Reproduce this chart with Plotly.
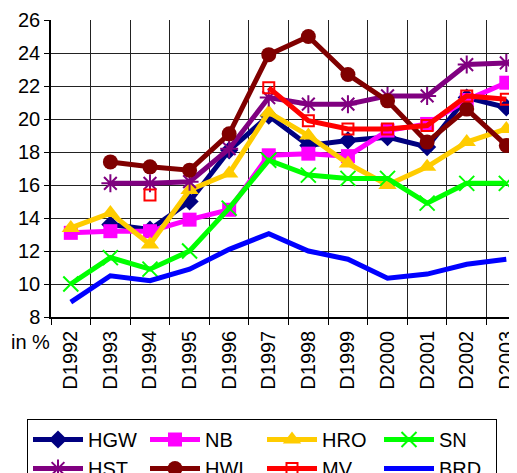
import plotly.graph_objects as go

categories = ["D1992", "D1993", "D1994", "D1995", "D1996", "D1997",
              "D1998", "D1999", "D2000", "D2001", "D2002", "D2003"]

HGW = [None, 13.6, 13.3, 15.0, 18.1, 20.2, 18.4, 18.7, 18.9, 18.3, 21.3, 20.7]
NB  = [13.1, 13.2, 13.2, 13.9, 14.5, 17.8, 17.9, 17.75, 19.3, 19.7, 21.15, 22.2]
HRO = [13.4, 14.3, 12.4, 15.7, 16.7, 20.4, 19.0, 17.3, 16.0, 17.1, 18.6, 19.4]
SN  = [10.0, 11.6, 10.9, 12.0, 14.6, 17.5, 16.6, 16.4, 16.4, 14.9, 16.1, 16.1]
HST = [None, 16.1, 16.1, 16.2, 18.2, 21.3, 20.9, 20.9, 21.4, 21.4, 23.3, 23.4]
HWI = [None, 17.4, 17.1, 16.9, 19.1, 23.9, 25.0, 22.7, 21.1, 18.6, 20.6, 18.4]
MV  = [None, None, 15.4, None, None, 21.9, 19.9, 19.4, 19.4, 19.6, 21.4, 21.2]
BRD = [8.9, 10.5, 10.2, 10.9, 12.1, 13.05, 12.0, 11.5, 10.35, 10.6, 11.2, 11.5]

y_ticks = [8, 10, 12, 14, 16, 18, 20, 22, 24, 26]

series = [
    ("HGW", HGW, "#000080", "diamond", 14, None),
    ("NB", NB, "#FF00FF", "square", 14, None),
    ("HRO", HRO, "#FFCC00", "triangle-up", 16, None),
    ("SN", SN, "#00FF00", "x-thin-open", 15, 2),
    ("HST", HST, "#800080", "asterisk-open", 15, 2),
    ("HWI", HWI, "#800000", "circle", 15, None),
    ("MV", MV, "#FF0000", "square-open", 11, 2),
    ("BRD", BRD, "#0000FF", None, 0, None),
]

fig = go.Figure()
for name, vals, color, sym, size, mlw in series:
    if sym is None:
        fig.add_trace(go.Scatter(x=categories, y=vals, name=name, mode="lines",
                                 line=dict(color=color, width=5)))
    else:
        marker = dict(symbol=sym, size=size, color=color)
        if mlw:
            marker["line"] = dict(color=color, width=mlw)
        fig.add_trace(go.Scatter(x=categories, y=vals, name=name, mode="lines+markers",
                                 line=dict(color=color, width=5), marker=marker))

font_family = "Liberation Sans, Arial, sans-serif"

# page body has an 8px default margin; figure sized to fill the visible window
W, H = 509, 465

fig.update_layout(
    width=W, height=H,
    margin=dict(l=43, r=0, t=12, b=156, autoexpand=False),
    paper_bgcolor="white", plot_bgcolor="white",
    font=dict(family=font_family, size=20, color="black"),
    showlegend=True,
    legend=dict(
        orientation="h",
        xref="container", yref="container",
        x=19 / W, y=1 - 411 / H,
        xanchor="left", yanchor="top",
        bordercolor="black", borderwidth=1, bgcolor="white",
        font=dict(family=font_family, size=20, color="black"),
        entrywidth=52, entrywidthmode="pixels",
        itemwidth=50, tracegroupgap=0,
    ),
    xaxis=dict(
        type="category", categoryorder="array", categoryarray=categories,
        range=[-0.5, 11.27],
        tickson="boundaries", ticks="outside", ticklen=6, tickcolor="black",
        showgrid=True, gridcolor="#222222", gridwidth=1,
        showline=True, linecolor="black", linewidth=1.5,
        tickangle=-90, tickfont=dict(size=20), ticklabelstandoff=4,
    ),
    yaxis=dict(
        range=[8, 26], tickvals=y_ticks, ticks="outside", ticklen=5, tickcolor="black",
        showgrid=True, gridcolor="#222222", gridwidth=1,
        showline=True, linecolor="black", linewidth=1.5,
        zeroline=False, tickfont=dict(size=20),
    ),
    annotations=[dict(text="in %", xref="paper", yref="paper", x=0, y=0,
                      xanchor="right", yanchor="top", xshift=1, yshift=-12,
                      showarrow=False, font=dict(size=20))],
)

fig.write_html("out.html")
